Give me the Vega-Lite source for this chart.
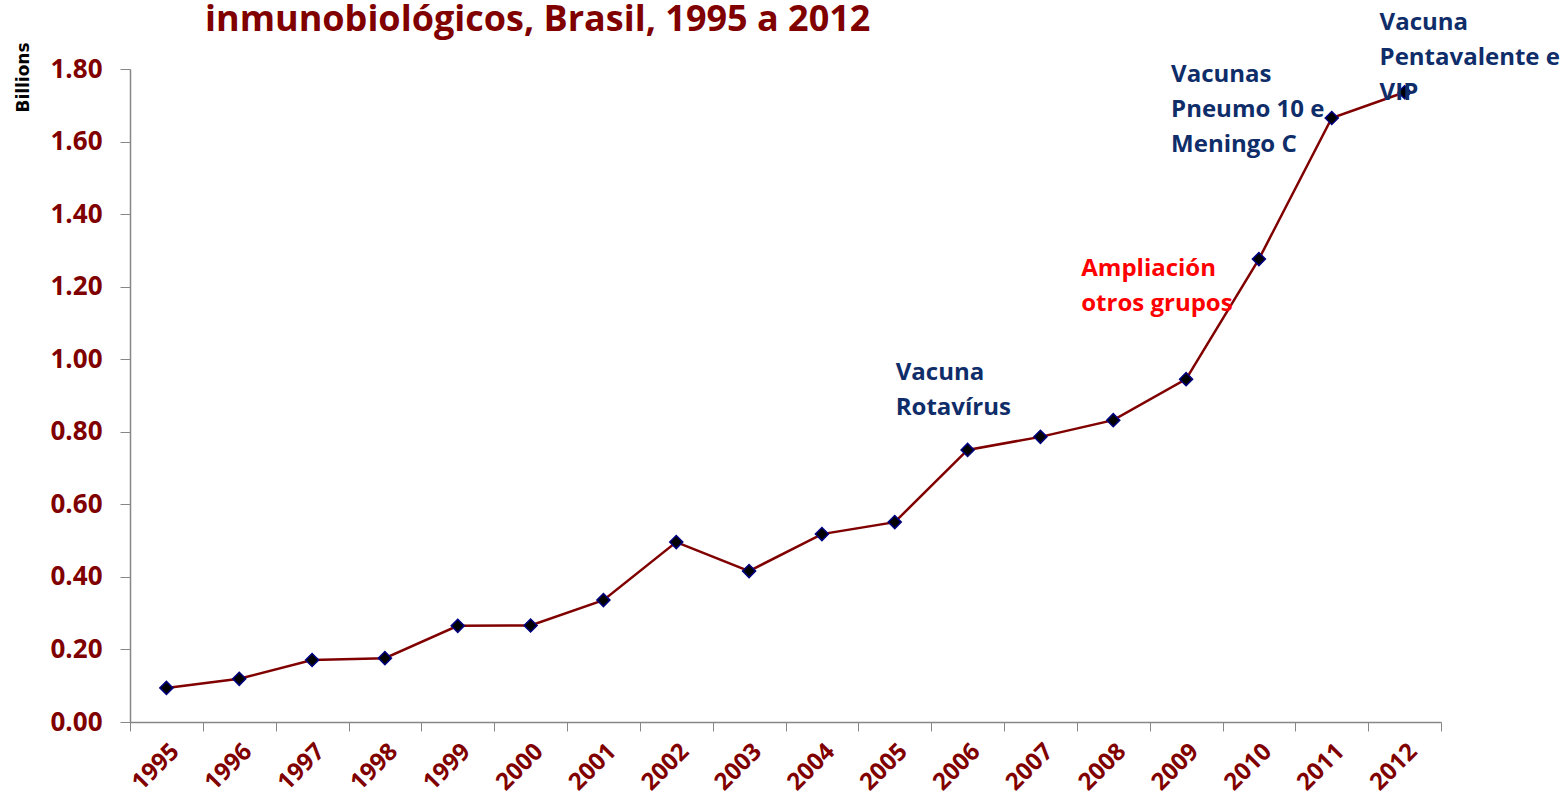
{
  "$schema": "https://vega.github.io/schema/vega-lite/v6.json",
  "width": 1311,
  "height": 653,
  "autosize": {"type": "none"},
  "padding": {"left": 130, "top": 69, "right": 122, "bottom": 77},
  "background": "white",
  "view": {"stroke": null},
  "title": {
    "text": "inmunobiológicos, Brasil, 1995 a 2012",
    "anchor": "start",
    "frame": "group",
    "dx": 75,
    "dy": 56,
    "offset": 0,
    "baseline": "alphabetic",
    "font": "Open Sans",
    "fontSize": 36,
    "fontWeight": "bold",
    "color": "#800000"
  },
  "datasets": {
    "series": [
      {"year": "1995", "value": 0.094},
      {"year": "1996", "value": 0.119},
      {"year": "1997", "value": 0.171},
      {"year": "1998", "value": 0.176},
      {"year": "1999", "value": 0.265},
      {"year": "2000", "value": 0.266},
      {"year": "2001", "value": 0.336},
      {"year": "2002", "value": 0.496},
      {"year": "2003", "value": 0.416},
      {"year": "2004", "value": 0.518},
      {"year": "2005", "value": 0.551},
      {"year": "2006", "value": 0.750},
      {"year": "2007", "value": 0.786},
      {"year": "2008", "value": 0.832},
      {"year": "2009", "value": 0.945},
      {"year": "2010", "value": 1.276},
      {"year": "2011", "value": 1.665},
      {"year": "2012", "value": 1.736}
    ],
    "notes": [
      {"id": "a", "year": "2005", "pos": 0.994, "label": "Vacuna\nRotavírus"},
      {"id": "b", "year": "2008", "pos": 1.282, "label": "Ampliación\notros  grupos"},
      {"id": "c", "year": "2009", "pos": 1.817, "label": "Vacunas\nPneumo 10 e\nMeningo C"},
      {"id": "d", "year": "2012", "pos": 1.960, "label": "Vacuna\nPentavalente e\nVIP"}
    ]
  },
  "encoding": {
    "x": {
      "field": "year",
      "type": "ordinal",
      "scale": {"paddingInner": 0, "paddingOuter": 0},
      "axis": {
        "title": null,
        "tickBand": "extent",
        "labelAngle": -45,
        "labelFont": "Open Sans",
        "labelFontWeight": "bold",
        "labelFontSize": 24,
        "labelColor": "#800000",
        "labelPadding": 8,
        "tickSize": 9,
        "tickColor": "#868686",
        "domainColor": "#868686",
        "domainWidth": 1.5,
        "grid": false
      }
    }
  },
  "layer": [
    {
      "data": {"name": "series"},
      "mark": {"type": "line", "color": "#800000", "strokeWidth": 2.5},
      "encoding": {
        "y": {
          "field": "value",
          "type": "quantitative",
          "scale": {"domain": [0, 1.8], "nice": false, "zero": true},
          "axis": {
            "title": "Billions",
            "titleFont": "DejaVu Sans",
            "titleFontSize": 17,
            "titleFontWeight": "bold",
            "titleColor": "black",
            "titleAngle": -90,
            "titleX": -107,
            "titleY": 8,
            "titleAlign": "center",
            "titleBaseline": "middle",
            "values": [0, 0.2, 0.4, 0.6, 0.8, 1.0, 1.2, 1.4, 1.6, 1.8],
            "format": ".2f",
            "labelFont": "Open Sans",
            "labelFontWeight": "bold",
            "labelFontSize": 26,
            "labelColor": "#800000",
            "labelPadding": 18,
            "tickSize": 10,
            "tickColor": "#868686",
            "domainColor": "#868686",
            "domainWidth": 1.5,
            "grid": false
          }
        }
      }
    },
    {
      "data": {"name": "series"},
      "mark": {"type": "point", "shape": "diamond", "filled": true, "color": "black", "stroke": "#000080", "strokeWidth": 1.5, "size": 170, "opacity": 1},
      "encoding": {"y": {"field": "value", "type": "quantitative"}}
    },
    {
      "data": {"name": "notes"},
      "transform": [{"filter": "datum.id == 'a'"}],
      "mark": {"type": "text", "align": "left", "baseline": "top", "dx": 1, "lineBreak": "\n", "lineHeight": 35, "font": "Open Sans", "fontWeight": "bold", "fontSize": 24, "color": "#0F2D69"},
      "encoding": {"y": {"field": "pos", "type": "quantitative"}, "text": {"field": "label"}}
    },
    {
      "data": {"name": "notes"},
      "transform": [{"filter": "datum.id == 'b'"}],
      "mark": {"type": "text", "align": "left", "baseline": "top", "dx": -32, "lineBreak": "\n", "lineHeight": 35, "font": "Open Sans", "fontWeight": "bold", "fontSize": 24, "color": "#FF0000"},
      "encoding": {"y": {"field": "pos", "type": "quantitative"}, "text": {"field": "label"}}
    },
    {
      "data": {"name": "notes"},
      "transform": [{"filter": "datum.id == 'c'"}],
      "mark": {"type": "text", "align": "left", "baseline": "top", "dx": -15, "lineBreak": "\n", "lineHeight": 35, "font": "Open Sans", "fontWeight": "bold", "fontSize": 24, "color": "#0F2D69"},
      "encoding": {"y": {"field": "pos", "type": "quantitative"}, "text": {"field": "label"}}
    },
    {
      "data": {"name": "notes"},
      "transform": [{"filter": "datum.id == 'd'"}],
      "mark": {"type": "text", "align": "left", "baseline": "top", "dx": -25, "lineBreak": "\n", "lineHeight": 35, "font": "Open Sans", "fontWeight": "bold", "fontSize": 24, "color": "#0F2D69"},
      "encoding": {"y": {"field": "pos", "type": "quantitative"}, "text": {"field": "label"}}
    }
  ]
}
